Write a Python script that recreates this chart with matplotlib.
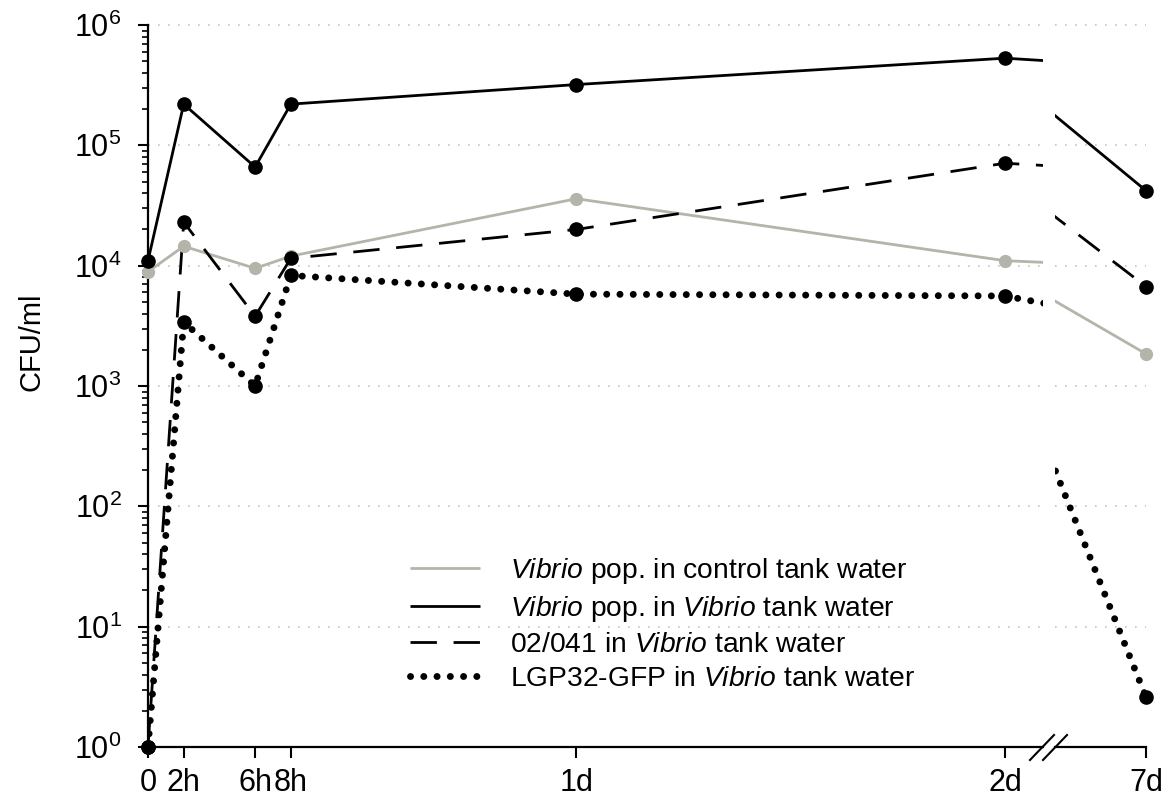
import numpy as np
import matplotlib
matplotlib.use("Agg")
import matplotlib.pyplot as plt
from matplotlib.lines import Line2D
from matplotlib.ticker import LogLocator, NullFormatter

plt.rcParams['font.family'] = ['Liberation Sans', 'DejaVu Sans']
plt.rcParams['mathtext.fontset'] = 'custom'
plt.rcParams['mathtext.rm'] = 'Liberation Sans'
plt.rcParams['mathtext.it'] = 'Liberation Sans:italic'

# -----------------------------
# DATA (time in hours)
# -----------------------------
time_h = np.array([0, 2, 6, 8, 24, 48, 168])
control = np.array([8.9e3, 1.45e4, 9.5e3, 1.2e4, 3.6e4, 1.1e4, 1.85e3])
vibrio = np.array([1.1e4, 2.2e5, 6.6e4, 2.2e5, 3.2e5, 5.3e5, 4.2e4])
strain = np.array([1, 2.3e4, 3.8e3, 1.15e4, 2.0e4, 7.1e4, 6.7e3])
gfp = np.array([1, 3.4e3, 1.0e3, 8.3e3, 5.8e3, 5.6e3, 2.6])

left_ticks = [0, 2, 6, 8, 24, 48]
left_labels = ["0", "2h", "6h", "8h", "1d", "2d"]
right_ticks = [168]
right_labels = ["7d"]

labels = [r"$\it{Vibrio}$ pop. in control tank water",
          r"$\it{Vibrio}$ pop. in $\it{Vibrio}$ tank water",
          r"02/041 in $\it{Vibrio}$ tank water",
          r"LGP32-GFP in $\it{Vibrio}$ tank water"]

grey = '#b4b4aa'
styles = [
    dict(color=grey, lw=2, ls='-'),
    dict(color='black', lw=2, ls='-'),
    dict(color='black', lw=2, ls=(0, (9.5, 6))),
    dict(color='black', lw=5, ls=(0, (0.01, 1.9)), dash_capstyle='round'),
]
series = [control, vibrio, strain, gfp]
msizes = [8.5, 9.5, 9.5, 9.5]

# -----------------------------
# FIGURE / BROKEN AXIS
# -----------------------------
W, H = 1170, 807
fig = plt.figure(figsize=(W / 100, H / 100), dpi=100)
bot = 1 - 747 / H
hgt = (747 - 25) / H
ax1 = fig.add_axes([148 / W, bot, (1043 - 148) / W, hgt])
ax2 = fig.add_axes([1055 / W, bot, (1146 - 1055) / W, hgt])

ax1.set_xlim(0, 50.13)
ax2.set_xlim(100, 168)

for ax, lo, hi in [(ax1, 0, 50.13), (ax2, 100, 168)]:
    ax.set_yscale('log')
    ax.set_ylim(1, 1e6)
    for y in [1e1, 1e2, 1e3, 1e4, 1e5, 1e6]:
        ax.axhline(y, color='#c4c4c4', lw=1.2, ls=(0, (1, 5)), zorder=0,
                   clip_on=False)
    mask = (time_h >= lo) & (time_h <= hi)
    for vals, st, ms, lab in zip(series, styles, msizes, labels):
        ax.plot(time_h, vals, label=lab if ax is ax1 else None,
                solid_capstyle='butt', zorder=2, **st)
        ax.plot(time_h[mask], vals[mask], ls='none', marker='o', ms=ms,
                color=st['color'], clip_on=False, zorder=3)
    for s in ['top', 'right']:
        ax.spines[s].set_visible(False)
    ax.spines['bottom'].set_linewidth(1.6)
    ax.tick_params(axis='x', direction='out', length=8, width=1.5,
                   labelsize=22, pad=7)

ax1.spines['left'].set_linewidth(1.6)
ax1.yaxis.set_major_locator(LogLocator(base=10, numticks=10))
ax1.yaxis.set_minor_locator(LogLocator(base=10, subs=np.arange(2, 10), numticks=10))
ax1.yaxis.set_minor_formatter(NullFormatter())
ax1.tick_params(axis='y', which='major', direction='out', length=7, width=1.5,
                labelsize=22, pad=12)
ax1.tick_params(axis='y', which='minor', direction='out', length=4.5, width=1.2)
ax1.set_xticks(left_ticks, left_labels)
ax2.set_xticks(right_ticks, right_labels)

ax2.spines['left'].set_visible(False)
ax2.tick_params(axis='y', which='both', left=False, labelleft=False)

ax1.set_ylabel("CFU/ml", fontsize=21)
ax1.yaxis.set_label_coords(-0.115, 0.561)

# break marks
for x0 in [1030, 1043]:
    fig.add_artist(Line2D([x0 / W, (x0 + 24) / W], [1 - 760 / H, 1 - 735 / H],
                          transform=fig.transFigure, color='black', lw=1.5))

ax1.legend(loc='upper left', bbox_to_anchor=(410 / W, 1 - 556 / H),
           bbox_transform=fig.transFigure, frameon=False, fontsize=20.3,
           handlelength=2.5, handletextpad=1.05, labelspacing=0.28,
           borderpad=0, borderaxespad=0)

fig.savefig("out.png", dpi=100)
